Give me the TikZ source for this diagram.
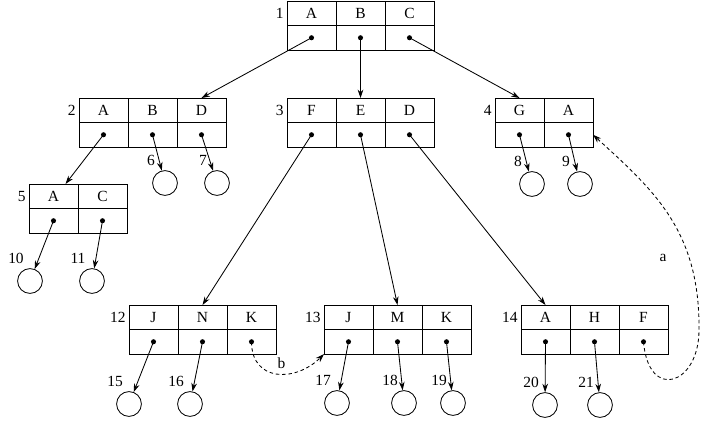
\documentclass[tikz,border=0pt]{standalone}
\usepackage{fontspec}
\setmainfont{Liberation Serif}
\usetikzlibrary{arrows.meta,calc}
\tikzset{
	keycell/.style={draw,rectangle,minimum width=1.225cm,minimum height=0.6125cm,inner sep=0pt,outer sep=0pt},
	ptrcell/.style={keycell},
	leaf/.style={draw,circle,minimum size=0.62cm,inner sep=0pt},
	num/.style={inner sep=0pt},
	ptr/.style={-{Stealth[length=6pt,width=4pt]}},
	link/.style={ptr,dash pattern=on 2.5pt off 2pt}
}
% record: name, number, x, y (upper left corner), keys
\newcommand{\keyrec}[5]{
	\node[num,anchor=east] (#1num) at (#3-3,#4+12.25) {#2};
	\foreach \k [count=\i] in {#5} {
		\node[keycell] (#1k\i) at ({#3+(\i-0.5)*49},#4+12.25) {\k};
		\node[ptrcell] (#1p\i) at ({#3+(\i-0.5)*49},#4+36.75) {};
		\fill (#1p\i) circle (1.8pt);
	}
}
% leaf: name, number, x, y
\newcommand{\leafnode}[4]{
	\node[leaf] (#1) at (#3,#4) {};
	\node[num] (#1num) at (#3-14,#4-23) {#2};
}

\begin{document}
\begin{tikzpicture}[x=0.025cm,y=-0.025cm,line width=0.6pt,font=\fontsize{11}{13}\selectfont]
	\useasboundingbox (0,0) rectangle (703,424);
	\keyrec{n1}{1}{287}{1}{A,B,C}
	\keyrec{n2}{2}{79}{98}{A,B,D}
	\keyrec{n3}{3}{287}{98}{F,E,D}
	\keyrec{n4}{4}{495}{98}{G,A}
	\keyrec{n5}{5}{29}{184}{A,C}
	\keyrec{n12}{12}{129}{305}{J,N,K}
	\keyrec{n13}{13}{324}{305}{J,M,K}
	\keyrec{n14}{14}{521}{305}{A,H,F}
	\leafnode{c6}{6}{165}{183}
	\leafnode{c7}{7}{217}{183}
	\leafnode{c8}{8}{532}{184}
	\leafnode{c9}{9}{580}{184}
	\leafnode{c10}{10}{30}{281}
	\leafnode{c11}{11}{92}{281}
	\leafnode{c15}{15}{129}{404}
	\leafnode{c16}{16}{190}{404}
	\leafnode{c17}{17}{337}{403}
	\leafnode{c18}{18}{404}{403}
	\leafnode{c19}{19}{453}{403}
	\leafnode{c20}{20}{545}{405}
	\leafnode{c21}{21}{600}{405}
	\coordinate (n5in) at ($(n5k1.north)+(12,0)$);
	\coordinate (abend) at (699,330);
	% pointers to children
	\draw[ptr] (n1p1.center) -- (n2k3.north);
	\draw[ptr] (n1p2.center) -- (n3k2.north);
	\draw[ptr] (n1p3.center) -- (n4k1.north);
	\draw[ptr] (n2p1.center) -- (n5in);
	\draw[ptr] (n2p2.center) -- (c6);
	\draw[ptr] (n2p3.center) -- (c7);
	\draw[ptr] (n3p1.center) -- (n12k2.north);
	\draw[ptr] (n3p2.center) -- (n13k2.north);
	\draw[ptr] (n3p3.center) -- (n14k1.north);
	\draw[ptr] (n4p1.center) -- (c8);
	\draw[ptr] (n4p2.center) -- (c9);
	\draw[ptr] (n5p1.center) -- (c10);
	\draw[ptr] (n5p2.center) -- (c11);
	\draw[ptr] (n12p1.center) -- (c15);
	\draw[ptr] (n12p2.center) -- (c16);
	\draw[ptr] (n13p1.center) -- (c17);
	\draw[ptr] (n13p2.center) -- (c18);
	\draw[ptr] (n13p3.center) -- (c19);
	\draw[ptr] (n14p1.center) -- (c20);
	\draw[ptr] (n14p2.center) -- (c21);
	% dashed links
	\draw[link] (n12p3.center) to[out=-90,in=225,looseness=1.4] node[pos=0.55,above] (blabel) {b} (n13p1.south west);
	\draw[link] (n14p3.center) .. controls +(5,60) and +(0,55) .. (abend) .. controls +(1,-100) and +(60,55) .. (n4p2.east);
	\node (alabel) at (663,258) {a};
\end{tikzpicture}
\end{document}
